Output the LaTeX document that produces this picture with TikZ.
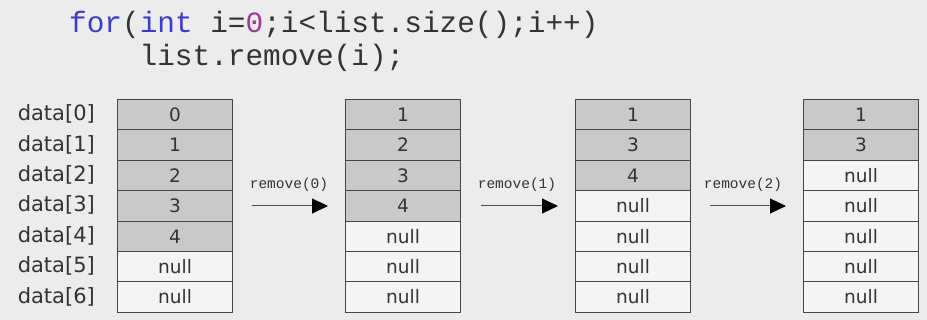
\documentclass[tikz,border=0pt]{standalone}
\usepackage{fontspec}
\setmainfont{DejaVu Sans}
\setmonofont{Liberation Mono}
\usetikzlibrary{arrows.meta}
\definecolor{bg}{HTML}{ECECEC}
\definecolor{fillcell}{HTML}{C9C9C9}
\definecolor{emptycell}{HTML}{F4F4F4}
\definecolor{kw}{HTML}{3B3BD0}
\definecolor{num}{HTML}{9A3A9A}
\definecolor{txt}{HTML}{333333}
\definecolor{edge}{HTML}{454545}
\begin{document}
\begin{tikzpicture}[x=1pt,y=-1pt,
  cellbase/.style={draw=edge, line width=1.1pt, minimum width=115pt, minimum height=30.4pt,
    inner sep=0pt, anchor=north west, text=txt, text height=13.5pt, text depth=0pt,
    font=\fontsize{18.5}{18.5}\selectfont},
  fullcell/.style={cellbase, fill=fillcell},
  nullcell/.style={cellbase, fill=emptycell},
  idxlabel/.style={anchor=east, text=txt, inner sep=0pt, font=\fontsize{21}{21}\selectfont},
  codeline/.style={anchor=base west, inner sep=0pt, text=txt, font=\ttfamily\fontsize{29.4}{32}\selectfont},
  oplabel/.style={inner sep=0pt, text=txt, font=\ttfamily\fontsize{14.5}{15}\selectfont},
  oparrow/.style={draw=black!70, line width=1pt, -{Triangle[length=16pt,width=15pt,fill=black,color=black]}}
]
\useasboundingbox[fill=bg] (0,0) rectangle (927,320);

\node[codeline] (code1) at (69,33) {\textcolor{kw}{for}(\textcolor{kw}{int} i=\textcolor{num}{0};i<list.size();i++)};
\node[codeline] (code2) at (139.5,65.5) {list.remove(i);};

% index labels
\foreach \k in {0,...,6} {
  \node[idxlabel] (lab\k) at (95, 99+\k*30.4+15.2) {data[\k]};
}

% columns: x positions and contents
\foreach \c/\x/\vals in {1/117/{0,1,2,3,4,null,null},
                         2/345/{1,2,3,4,null,null,null},
                         3/575/{1,3,4,null,null,null,null},
                         4/803/{1,3,null,null,null,null,null}} {
  \foreach \v [count=\r from 0] in \vals {
    \ifnum\pdfstrcmp{\v}{null}=0
      \node[nullcell] (c\c r\r) at (\x, 99+\r*30.4) {\v};
    \else
      \node[fullcell] (c\c r\r) at (\x, 99+\r*30.4) {\v};
    \fi
  }
}

% arrows
\coordinate (a1s) at (252,206); \coordinate (a1e) at (328,206);
\coordinate (a2s) at (481,206); \coordinate (a2e) at (558,206);
\coordinate (a3s) at (710,206); \coordinate (a3e) at (786,206);
\draw[oparrow] (a1s) -- (a1e);
\draw[oparrow] (a2s) -- (a2e);
\draw[oparrow] (a3s) -- (a3e);
\node[oplabel] (op1) at (289,185) {remove(0)};
\node[oplabel] (op2) at (517,185) {remove(1)};
\node[oplabel] (op3) at (743,185) {remove(2)};
\end{tikzpicture}
\end{document}
